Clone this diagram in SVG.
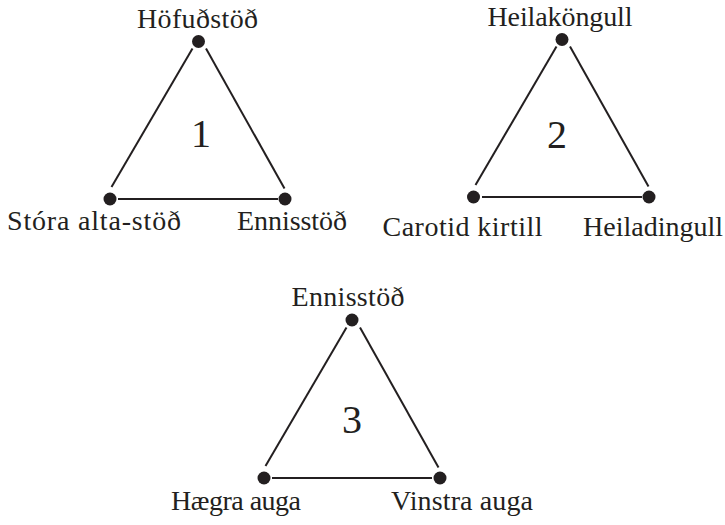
<svg xmlns="http://www.w3.org/2000/svg" width="725" height="525" viewBox="0 0 725 525">
<style>
.lbl{font-family:"Liberation Serif","DejaVu Serif",serif;font-size:28px;fill:#231f20;text-anchor:middle}
.num{font-family:"Liberation Serif","DejaVu Serif",serif;font-size:40px;fill:#231f20;text-anchor:middle}
.dot{fill:#231f20}
.edge{stroke:#231f20;stroke-width:2;fill:none}
</style>
<rect width="725" height="525" fill="#fff"/>
<g id="connectors">
<line class="edge" x1="192.5" y1="48.5" x2="111.5" y2="187"/>
<line class="edge" x1="206" y1="48.5" x2="284.5" y2="188.5"/>
<line class="edge" x1="118" y1="199" x2="278" y2="199"/>
<line class="edge" x1="556.5" y1="46.5" x2="475.5" y2="185"/>
<line class="edge" x1="570" y1="46.5" x2="648.5" y2="186.5"/>
<line class="edge" x1="482" y1="197" x2="642" y2="197"/>
<line class="edge" x1="346.5" y1="327.5" x2="265.5" y2="466"/>
<line class="edge" x1="360" y1="327.5" x2="438.5" y2="467.5"/>
<line class="edge" x1="272" y1="478" x2="432" y2="478"/>
</g>
<g id="n1-top"><circle class="dot" cx="198.5" cy="41.5" r="6.5"/><text class="lbl" x="197.5" y="28" textLength="121" lengthAdjust="spacing">Höfuðstöð</text></g>
<g id="n1-left"><circle class="dot" cx="110" cy="199" r="6.5"/><text class="lbl" x="94" y="230" textLength="174" lengthAdjust="spacing">Stóra alta-stöð</text></g>
<g id="n1-right"><circle class="dot" cx="285" cy="199" r="6.5"/><text class="lbl" x="292" y="230" textLength="110" lengthAdjust="spacing">Ennisstöð</text></g>
<g id="t1"><text class="num" x="201" y="147">1</text></g>
<g id="n2-top"><circle class="dot" cx="562" cy="39.5" r="6.5"/><text class="lbl" x="560" y="26" textLength="145" lengthAdjust="spacing">Heilaköngull</text></g>
<g id="n2-left"><circle class="dot" cx="473.5" cy="197" r="6.5"/><text class="lbl" x="462.5" y="236" textLength="160" lengthAdjust="spacing">Carotid kirtill</text></g>
<g id="n2-right"><circle class="dot" cx="649" cy="197" r="6.5"/><text class="lbl" x="653" y="236" textLength="140" lengthAdjust="spacing">Heiladingull</text></g>
<g id="t2"><text class="num" x="557" y="148">2</text></g>
<g id="n3-top"><circle class="dot" cx="352" cy="320" r="6.5"/><text class="lbl" x="348" y="306" textLength="113" lengthAdjust="spacing">Ennisstöð</text></g>
<g id="n3-left"><circle class="dot" cx="264" cy="478" r="6.5"/><text class="lbl" x="236" y="510" textLength="130" lengthAdjust="spacing">Hægra auga</text></g>
<g id="n3-right"><circle class="dot" cx="440" cy="478" r="6.5"/><text class="lbl" x="462" y="510" textLength="142" lengthAdjust="spacing">Vinstra auga</text></g>
<g id="t3"><text class="num" x="352" y="433">3</text></g>
</svg>
